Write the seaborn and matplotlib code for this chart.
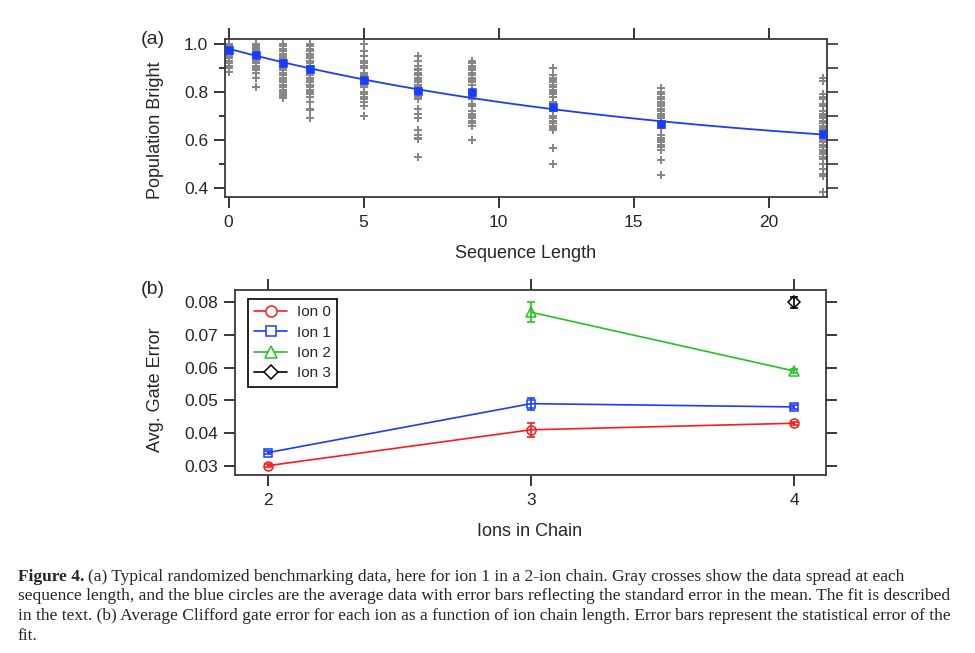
import numpy as np
import pandas as pd
import matplotlib
matplotlib.use("Agg")
import matplotlib.pyplot as plt
import seaborn as sns
from matplotlib.lines import Line2D

# ---- panel (a): randomized benchmarking data, ion 1 in a 2-ion chain ----
seq_lengths = [0, 1, 2, 3, 5, 7, 9, 12, 16, 22]

spread = {
    0: [1.0, 0.995, 0.99, 0.99, 0.985, 0.98, 0.98, 0.975, 0.97, 0.97, 0.965, 0.96,
        0.955, 0.95, 0.945, 0.94, 0.93, 0.92, 0.91, 0.9, 0.885],
    1: [1.0, 0.995, 0.99, 0.985, 0.98, 0.975, 0.97, 0.965, 0.96, 0.955, 0.95, 0.945,
        0.94, 0.93, 0.92, 0.91, 0.9, 0.89, 0.88, 0.86, 0.82],
    2: [1.0, 0.99, 0.98, 0.97, 0.96, 0.95, 0.94, 0.935, 0.93, 0.92, 0.91, 0.9, 0.89,
        0.88, 0.87, 0.86, 0.85, 0.84, 0.83, 0.82, 0.81, 0.8, 0.79, 0.785, 0.775],
    3: [1.0, 0.99, 0.98, 0.97, 0.96, 0.95, 0.94, 0.93, 0.92, 0.91, 0.9, 0.895, 0.89,
        0.885, 0.88, 0.87, 0.86, 0.85, 0.84, 0.83, 0.82, 0.81, 0.8, 0.79, 0.78, 0.76,
        0.73, 0.725, 0.69],
    5: [1.0, 0.97, 0.95, 0.93, 0.92, 0.91, 0.9, 0.88, 0.87, 0.865, 0.86, 0.855, 0.85,
        0.845, 0.84, 0.835, 0.83, 0.82, 0.8, 0.79, 0.78, 0.77, 0.76, 0.74, 0.7],
    7: [0.95, 0.93, 0.91, 0.895, 0.89, 0.88, 0.875, 0.87, 0.86, 0.85, 0.84, 0.83, 0.82,
        0.81, 0.8, 0.79, 0.78, 0.77, 0.73, 0.71, 0.69, 0.64, 0.62, 0.61, 0.605, 0.53],
    9: [0.93, 0.92, 0.91, 0.9, 0.89, 0.88, 0.87, 0.86, 0.85, 0.84, 0.83, 0.81, 0.8,
        0.79, 0.78, 0.77, 0.75, 0.74, 0.72, 0.71, 0.7, 0.69, 0.68, 0.67, 0.66, 0.6],
    12: [0.9, 0.87, 0.86, 0.85, 0.84, 0.83, 0.82, 0.81, 0.8, 0.79, 0.78, 0.76, 0.75,
         0.74, 0.73, 0.72, 0.7, 0.69, 0.68, 0.67, 0.66, 0.65, 0.64, 0.565, 0.5],
    16: [0.815, 0.8, 0.79, 0.78, 0.77, 0.76, 0.75, 0.74, 0.73, 0.72, 0.71, 0.7, 0.69,
         0.68, 0.67, 0.65, 0.62, 0.61, 0.6, 0.59, 0.58, 0.57, 0.56, 0.515, 0.455],
    22: [0.86, 0.845, 0.79, 0.78, 0.77, 0.75, 0.74, 0.72, 0.71, 0.7, 0.69, 0.68, 0.67,
         0.66, 0.65, 0.64, 0.63, 0.62, 0.61, 0.6, 0.59, 0.58, 0.57, 0.56, 0.55, 0.54,
         0.53, 0.52, 0.5, 0.48, 0.46, 0.45, 0.385],
}

mean_pop = [0.975, 0.954, 0.92, 0.894, 0.85, 0.805, 0.80, 0.736, 0.667, 0.624]
mean_err = [0.004, 0.005, 0.007, 0.009, 0.008, 0.011, 0.01, 0.012, 0.012, 0.015]

# ---- panel (b): average Clifford gate error vs ions in chain ----
ion_names = ["Ion 0", "Ion 1", "Ion 2", "Ion 3"]
ion_chain = {
    "Ion 0": [2, 3, 4],
    "Ion 1": [2, 3, 4],
    "Ion 2": [3, 4],
    "Ion 3": [4],
}
ion_error = {
    "Ion 0": [0.030, 0.041, 0.043],
    "Ion 1": [0.034, 0.049, 0.048],
    "Ion 2": [0.077, 0.059],
    "Ion 3": [0.080],
}
ion_error_bar = {
    "Ion 0": [0.0004, 0.0021, 0.0005],
    "Ion 1": [0.0004, 0.0018, 0.0006],
    "Ion 2": [0.0030, 0.0005],
    "Ion 3": [0.0017],
}
ion_colors = {"Ion 0": "#ff1a1a", "Ion 1": "#1a3cff", "Ion 2": "#22c322", "Ion 3": "#000000"}
ion_markers = {"Ion 0": "o", "Ion 1": "s", "Ion 2": "^", "Ion 3": "D"}
ion_msize = {"Ion 0": 6.5, "Ion 1": 6, "Ion 2": 7, "Ion 3": 6}

caption = [
    "(a) Typical randomized benchmarking data, here for ion 1 in a 2-ion chain. Gray crosses show the data spread at each",
    "sequence length, and the blue circles are the average data with error bars reflecting the standard error in the mean. The fit is described",
    "in the text. (b) Average Clifford gate error for each ion as a function of ion chain length. Error bars represent the statistical error of the",
    "fit.",
]

sns.set_style("ticks")
plt.rcParams["font.family"] = ["Liberation Sans", "DejaVu Sans"]

blue = "#1a3cff"
frame = "#3a3a3a"
tick_fs = 12.5
label_fs = 13

df_a = pd.DataFrame(
    [(n, v) for n in seq_lengths for v in spread[n]], columns=["seq", "pop"]
)

# exponential decay fit to the averages: p = 0.5 + A f^n
slope, icpt = np.polyfit(seq_lengths, np.log(np.array(mean_pop) - 0.5), 1)
fit_x = np.linspace(0, 22, 200)
fit_y = 0.5 + np.exp(icpt) * np.exp(slope * fit_x)

fig = plt.figure(figsize=(9.75, 6.53), dpi=100)


def style_axes(ax):
    for sp in ax.spines.values():
        sp.set_visible(True)
        sp.set_color(frame)
        sp.set_linewidth(1.3)
    ax.tick_params(which="both", direction="out", width=1.1, color="black",
                   labelsize=tick_fs, top=True, right=False)
    ax.tick_params(which="major", length=8)
    ax.tick_params(which="minor", length=4.5)
    ax.tick_params(axis="y", pad=4)
    ax.tick_params(axis="x", pad=5)
    ax.set_xlabel("")
    ax.set_ylabel("")


# panel (a)
ax1 = fig.add_axes([0.2308, 0.6988, 0.6171, 0.2415])
sns.scatterplot(data=df_a, x="seq", y="pop", marker="+", color="#858585", s=30,
                linewidth=1.4, ax=ax1, zorder=2, legend=False)
sns.lineplot(x=fit_x, y=fit_y, color=blue, lw=1.3, ax=ax1, zorder=3)
ax1.errorbar(seq_lengths, mean_pop, yerr=mean_err, fmt="none", ecolor=blue,
             elinewidth=1.2, capsize=0, zorder=4)
sns.scatterplot(x=seq_lengths, y=mean_pop, marker="s", color=blue, s=28,
                edgecolor=blue, ax=ax1, zorder=5, legend=False)
ax1.set_xlim(-0.13, 22.15)
ax1.set_ylim(0.364, 1.021)
ax1.set_xticks([0, 5, 10, 15, 20])
ax1.set_yticks([0.4, 0.6, 0.8, 1.0])
ax1.set_yticklabels(["0.4", "0.6", "0.8", "1.0"])
ax1.set_yticks([0.5, 0.7, 0.9], minor=True)
style_axes(ax1)
ax1.tick_params(axis="x", which="major", top=True, labeltop=False)
right1 = ax1.secondary_yaxis("right")
right1.set_yticks([0.4, 0.5, 0.6, 0.7, 0.8, 0.9, 1.0])
right1.set_yticklabels([])
right1.tick_params(direction="out", length=8, width=1.1)
right1.spines["right"].set_visible(False)

# panel (b)
ax2 = fig.add_axes([0.2413, 0.2726, 0.6059, 0.2833])
for name in ion_names:
    c = ion_colors[name]
    ax2.errorbar(ion_chain[name], ion_error[name], yerr=ion_error_bar[name],
                 fmt="none", ecolor=c, elinewidth=1.2, capsize=3, capthick=1.2, zorder=3)
    sns.lineplot(x=ion_chain[name], y=ion_error[name], color=c, lw=1.2,
                 marker=ion_markers[name], markersize=ion_msize[name],
                 markerfacecolor="none", markeredgecolor=c, markeredgewidth=1.1,
                 ax=ax2, zorder=4)
ax2.set_xlim(1.877, 4.121)
ax2.set_ylim(0.02716, 0.0838)
ax2.set_xticks([2, 3, 4])
ax2.set_xticklabels(["2", "3", "4"])
ax2.set_yticks([0.03, 0.04, 0.05, 0.06, 0.07, 0.08])
ax2.set_yticklabels(["0.03", "0.04", "0.05", "0.06", "0.07", "0.08"])
style_axes(ax2)
ax2.tick_params(axis="y", right=True, labelright=False)

handles = [
    Line2D([0], [0], color=ion_colors[n], lw=1.2, marker=ion_markers[n],
           markersize=ion_msize[n] + 1.5, markerfacecolor="white",
           markeredgecolor=ion_colors[n], markeredgewidth=1.1)
    for n in ion_names
]
leg = ax2.legend(handles, ion_names, loc="upper left", bbox_to_anchor=(0.021, 0.951),
                 borderaxespad=0, fontsize=11, fancybox=False, framealpha=1,
                 edgecolor="black", handlelength=2.2, labelspacing=0.42,
                 borderpad=0.4, handletextpad=0.6)
leg.get_frame().set_linewidth(1.2)

# panel letters and axis titles
fig.text(141 / 975, 1 - 40 / 653, "(a)", fontsize=14, ha="left", va="center")
fig.text(141 / 975, 1 - 289 / 653, "(b)", fontsize=14, ha="left", va="center")
fig.text(156 / 975, 1 - 130 / 653, "Population Bright", fontsize=label_fs,
         rotation=90, ha="center", va="center")
fig.text(156 / 975, 1 - 390 / 653, "Avg. Gate Error", fontsize=label_fs,
         rotation=90, ha="center", va="center")
fig.text(526 / 975, 1 - 253 / 653, "Sequence Length", fontsize=label_fs, ha="center", va="center")
fig.text(530 / 975, 1 - 531 / 653, "Ions in Chain", fontsize=label_fs, ha="center", va="center")

# caption
cap_font = ["Liberation Serif", "DejaVu Serif"]
cap_fs = 12.5
x0 = 18 / 975
rows = [577, 596, 616, 636]
head = fig.text(x0, 1 - rows[0] / 653, "Figure 4.", family=cap_font, fontsize=cap_fs,
                fontweight="bold", ha="left", va="center")
renderer = fig.canvas.get_renderer()
hw = head.get_window_extent(renderer).width
fig.text(x0 + (hw + 4) / 975, 1 - rows[0] / 653, caption[0], family=cap_font,
         fontsize=cap_fs, ha="left", va="center")
for line, yy in zip(caption[1:], rows[1:]):
    fig.text(x0, 1 - yy / 653, line, family=cap_font, fontsize=cap_fs,
             ha="left", va="center")

fig.savefig("out.png", dpi=100)
